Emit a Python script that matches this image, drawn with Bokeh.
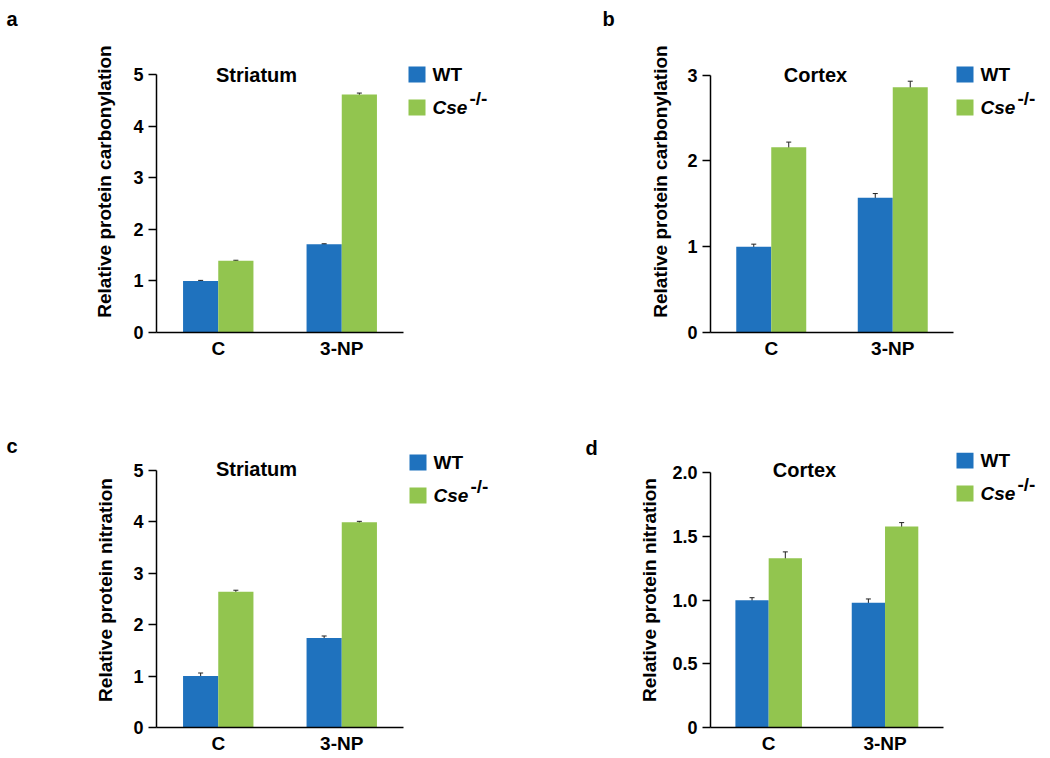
from bokeh.plotting import figure
from bokeh.models import (Range1d, ColumnDataSource, Whisker, Label,
                          BoxAnnotation, FixedTicker, TeeHead)
from bokeh.transform import dodge
from bokeh.layouts import row, column
from bokeh.embed import file_html
from bokeh.resources import INLINE

# ---------------- data ----------------
groups = ["C", "3-NP"]
legend_names = ["WT", "Cse"]

a_wt = [1.00, 1.71]
a_cse = [1.39, 4.61]
a_wt_err = [0.01, 0.01]
a_cse_err = [0.01, 0.03]

b_wt = [1.00, 1.57]
b_cse = [2.16, 2.86]
b_wt_err = [0.03, 0.05]
b_cse_err = [0.06, 0.07]

c_wt = [1.00, 1.74]
c_cse = [2.64, 3.99]
c_wt_err = [0.06, 0.04]
c_cse_err = [0.03, 0.02]

d_wt = [1.00, 0.98]
d_cse = [1.33, 1.58]
d_wt_err = [0.02, 0.03]
d_cse_err = [0.05, 0.03]

ticks_5 = [0, 1, 2, 3, 4, 5]
ticks_3 = [0, 1, 2, 3]
ticks_d = [0, 0.5, 1.0, 1.5, 2.0]
ticks_d_labels = {0: "0", 0.5: "0.5", 1.0: "1.0", 1.5: "1.5", 2.0: "2.0"}

BLUE = "#1F72BE"
GREEN = "#92C54F"
FONT = "Liberation Sans"


def panel(tag, title, ylabel, wt, cse, wt_err, cse_err, ymax, ticks, tick_labels,
          ox, oy, W, H, fl_abs, ft_abs, fb_abs, ytop_abs, xend_abs,
          bar_w, title_xy, legend_xy, tag_x, tag_standoff, ylab_standoff):
    n = len(groups)
    bl = fl_abs - ox
    bt = ft_abs - oy
    bb = oy + H - fb_abs
    # ranges: frame extends above/right of the drawn axes (axes are bounded)
    y_end = ymax * (fb_abs - ft_abs) / (fb_abs - ytop_abs)
    x_end = n * (ox + W - fl_abs) / (xend_abs - fl_abs)

    p = figure(width=W, height=H,
               x_range=Range1d(0, x_end), y_range=Range1d(0, y_end),
               output_backend="svg", toolbar_location=None,
               min_border_left=bl, min_border_right=0,
               min_border_top=bt, min_border_bottom=bb)
    p.outline_line_color = None
    p.xgrid.visible = False
    p.ygrid.visible = False
    p.background_fill_color = "white"
    p.border_fill_color = "white"

    # panel tag as plot title
    p.title.text = tag
    p.title.align = "left"
    p.title.offset = tag_x - fl_abs
    p.title.standoff = tag_standoff
    p.title.text_font = FONT
    p.title.text_font_style = "bold"
    p.title.text_font_size = "20px"
    p.title.text_color = "black"

    xs = [i + 0.5 for i in range(n)]
    src = ColumnDataSource(dict(
        x=xs, wt=wt, cse=cse,
        wt_up=[v + e for v, e in zip(wt, wt_err)],
        wt_lo=[v - e for v, e in zip(wt, wt_err)],
        cse_up=[v + e for v, e in zip(cse, cse_err)],
        cse_lo=[v - e for v, e in zip(cse, cse_err)],
    ))
    p.vbar(x=dodge("x", -bar_w / 2), top="wt", width=bar_w,
           source=src, fill_color=BLUE, line_color=None)
    p.vbar(x=dodge("x", bar_w / 2), top="cse", width=bar_w,
           source=src, fill_color=GREEN, line_color=None)
    for off, up, lo in ((-bar_w / 2, "wt_up", "wt_lo"), (bar_w / 2, "cse_up", "cse_lo")):
        w = Whisker(base=dodge("x", off), upper=up, lower=lo,
                    source=src, line_color="#222222", line_width=1,
                    upper_head=TeeHead(size=5, line_color="#222222", line_width=1),
                    lower_head=TeeHead(size=5, line_color="#222222", line_width=1))
        p.add_layout(w)

    # axes
    xa = p.xaxis[0]
    xa.ticker = FixedTicker(ticks=xs)
    xa.major_label_overrides = {x: g for x, g in zip(xs, groups)}
    xa.bounds = (0, n)
    xa.major_tick_line_color = None
    xa.major_tick_out = 0
    xa.major_tick_in = 0
    xa.minor_tick_line_color = None
    xa.minor_tick_out = 0
    xa.axis_line_color = "black"
    xa.axis_line_width = 1.5
    xa.major_label_text_font = FONT
    xa.major_label_text_font_style = "bold"
    xa.major_label_text_font_size = "19px"
    xa.major_label_text_color = "black"
    xa.major_label_standoff = 5

    ya = p.yaxis[0]
    ya.ticker = FixedTicker(ticks=ticks)
    ya.bounds = (0, ymax)
    if tick_labels:
        ya.major_label_overrides = tick_labels
    ya.major_tick_out = 8
    ya.major_tick_in = 0
    ya.minor_tick_line_color = None
    ya.minor_tick_out = 0
    ya.axis_line_color = "black"
    ya.axis_line_width = 1.5
    ya.major_tick_line_width = 1.5
    ya.major_label_text_font = FONT
    ya.major_label_text_font_style = "bold"
    ya.major_label_text_font_size = "18px"
    ya.major_label_text_color = "black"
    ya.major_label_standoff = 5
    ya.axis_label = ylabel
    ya.axis_label_text_font = FONT
    ya.axis_label_text_font_style = "bold"
    ya.axis_label_text_font_size = "19px"
    ya.axis_label_text_color = "black"
    ya.axis_label_standoff = ylab_standoff

    # helpers: absolute canvas coords -> frame-relative screen coords
    def sx(x):
        return x - fl_abs

    def sy(y):
        return fb_abs - y

    tx, ty = title_xy
    p.add_layout(Label(x=sx(tx), y=sy(ty), x_units="screen", y_units="screen",
                       text=title, text_font=FONT, text_font_style="bold",
                       text_font_size="20px", text_align="center",
                       text_baseline="alphabetic", text_color="black"))

    lx, ly = legend_xy
    for i, col in enumerate([BLUE, GREEN]):
        top = ly + i * 33
        p.add_layout(BoxAnnotation(left=sx(lx), right=sx(lx + 17),
                                   top=sy(top), bottom=sy(top + 16),
                                   left_units="screen", right_units="screen",
                                   top_units="screen", bottom_units="screen",
                                   fill_color=col, fill_alpha=1.0, line_color=None,
                                   line_alpha=0))
    p.add_layout(Label(x=sx(lx + 24), y=sy(ly + 8), x_units="screen", y_units="screen",
                       text=legend_names[0], text_font=FONT, text_font_style="bold",
                       text_font_size="19px", text_baseline="alphabetic",
                       text_color="black"))
    p.add_layout(Label(x=sx(lx + 24), y=sy(ly + 41), x_units="screen", y_units="screen",
                       text=legend_names[1], text_font=FONT,
                       text_font_style="bold italic",
                       text_font_size="19px", text_baseline="alphabetic",
                       text_color="black"))
    p.add_layout(Label(x=sx(lx + 61), y=sy(ly + 32), x_units="screen", y_units="screen",
                       text="-/-", text_font=FONT, text_font_style="bold",
                       text_font_size="19px", text_baseline="alphabetic",
                       text_color="black"))
    return p


pa = panel("a", "Striatum", "Relative protein carbonylation", a_wt, a_cse, a_wt_err, a_cse_err,
           5, ticks_5, None, ox=0, oy=0, W=520, H=379,
           fl_abs=156, ft_abs=30, fb_abs=332, ytop_abs=74, xend_abs=403,
           bar_w=0.285, title_xy=(256, 74), legend_xy=(408, 66), tag_x=6,
           tag_standoff=2, ylab_standoff=15)
pb = panel("b", "Cortex", "Relative protein carbonylation", b_wt, b_cse, b_wt_err, b_cse_err,
           3, ticks_3, None, ox=520, oy=0, W=528, H=379,
           fl_abs=710, ft_abs=30, fb_abs=332, ytop_abs=74.7, xend_abs=953,
           bar_w=0.288, title_xy=(815, 74), legend_xy=(956, 66), tag_x=602,
           tag_standoff=2, ylab_standoff=13)
pc = panel("c", "Striatum", "Relative protein nitration", c_wt, c_cse, c_wt_err, c_cse_err,
           5, ticks_5, None, ox=0, oy=379, W=520, H=377,
           fl_abs=156, ft_abs=452, fb_abs=728, ytop_abs=470, xend_abs=403,
           bar_w=0.285, title_xy=(256, 469), legend_xy=(409, 455), tag_x=6,
           tag_standoff=-9, ylab_standoff=14)
pd = panel("d", "Cortex", "Relative protein nitration", d_wt, d_cse, d_wt_err, d_cse_err,
           2, ticks_d, ticks_d_labels, ox=520, oy=379, W=528, H=377,
           fl_abs=710, ft_abs=452, fb_abs=730, ytop_abs=472.7, xend_abs=942.7,
           bar_w=0.286, title_xy=(804, 472), legend_xy=(956, 455), tag_x=585,
           tag_standoff=-12, ylab_standoff=9)

layout = column(row(pa, pb), row(pc, pd))
open("out.html", "w").write(file_html(layout, INLINE))
